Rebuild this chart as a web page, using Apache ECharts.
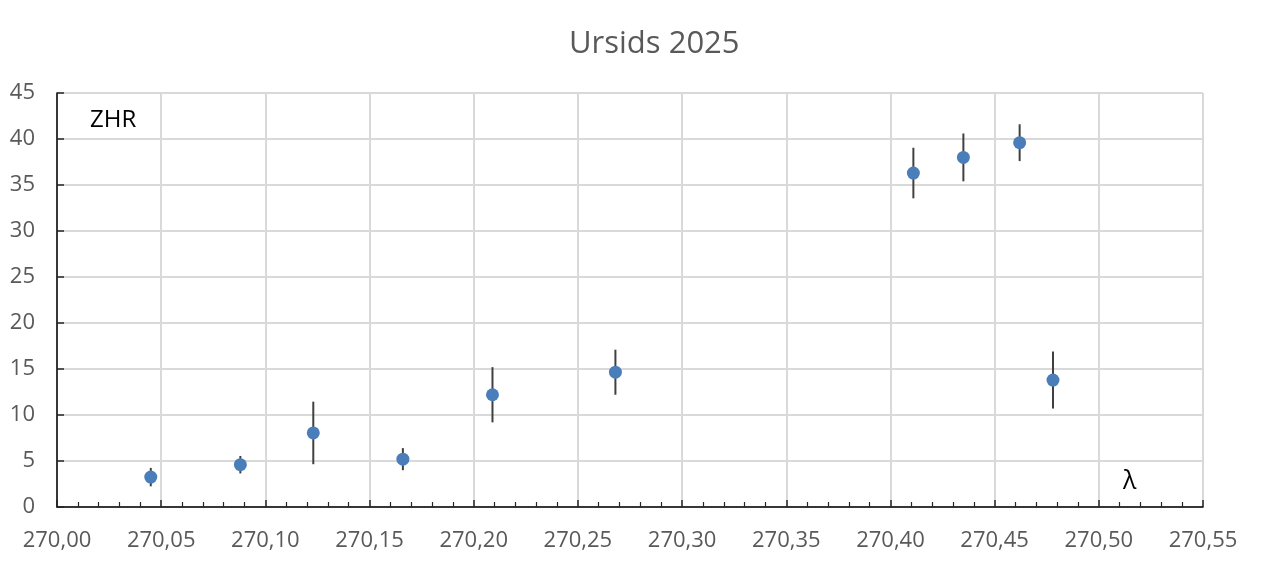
<!DOCTYPE html>
<html>
<head>
<meta charset="utf-8">
<script src="https://cdn.jsdelivr.net/npm/echarts@6/dist/echarts.min.js"></script>
<style>
html,body{margin:0;padding:0;background:#fff;}
#chart{width:1264px;height:565px;}
</style>
</head>
<body>
<div id="chart"></div>
<script>
var titleText = 'Ursids 2025';
var solarLongitude = [270.045, 270.088, 270.123, 270.166, 270.209, 270.268, 270.411, 270.435, 270.462, 270.478];
var zhr = [3.25, 4.6, 8.05, 5.2, 12.2, 14.65, 36.3, 38.0, 39.6, 13.8];
var zhrError = [1.0, 0.95, 3.4, 1.2, 3.0, 2.45, 2.75, 2.6, 2.0, 3.1];
var yAxisName = 'ZHR';
var xAxisName = 'λ';

var pointData = solarLongitude.map(function (x, i) { return [x, zhr[i]]; });
var errorData = solarLongitude.map(function (x, i) { return [x, zhr[i] - zhrError[i], zhr[i] + zhrError[i]]; });

var chart = echarts.init(document.getElementById('chart'));
var font = '"Open Sans", sans-serif';
chart.setOption({
  animation: false,
  backgroundColor: '#ffffff',
  title: {
    text: titleText,
    left: 564,
    top: 24,
    textStyle: { fontFamily: font, fontSize: 31, fontWeight: 'normal', color: '#595959' }
  },
  grid: { left: 57, right: 61, top: 93, bottom: 58 },
  xAxis: {
    type: 'value',
    min: 270,
    max: 270.55,
    interval: 0.05,
    axisLine: { show: true, onZero: false, lineStyle: { color: '#000000', width: 1.5 } },
    axisTick: { show: true, inside: true, length: 7, lineStyle: { color: '#262626', width: 1.5 } },
    minorTick: { show: true, splitNumber: 5, length: 5, lineStyle: { color: '#262626', width: 1.2 } },
    axisLabel: {
      fontFamily: font, fontSize: 22, color: '#595959', margin: 23,
      formatter: function (v) { return v.toFixed(2).replace('.', ','); }
    },
    splitLine: { show: true, lineStyle: { color: '#d9d9d9', width: 2 } }
  },
  yAxis: {
    type: 'value',
    min: 0,
    max: 45,
    interval: 5,
    axisLine: { show: true, lineStyle: { color: '#000000', width: 1.5 } },
    axisTick: { show: true, inside: true, length: 7, lineStyle: { color: '#262626', width: 1.5 } },
    axisLabel: { fontFamily: font, fontSize: 22, color: '#595959', margin: 22 },
    splitLine: { show: true, lineStyle: { color: '#d9d9d9', width: 2 } }
  },
  graphic: [
    { type: 'text', left: 90, top: 108, style: { text: yAxisName, fontFamily: font, fontSize: 24, fill: '#000000' } },
    { type: 'text', left: 1123, top: 469, style: { text: xAxisName, fontFamily: font, fontSize: 25, fill: '#000000' } }
  ],
  series: [
    {
      type: 'custom',
      z: 2,
      data: errorData,
      encode: { x: 0, y: [1, 2] },
      renderItem: function (params, api) {
        var p1 = api.coord([api.value(0), api.value(1)]);
        var p2 = api.coord([api.value(0), api.value(2)]);
        return {
          type: 'line',
          shape: { x1: p1[0], y1: p1[1], x2: p2[0], y2: p2[1] },
          style: { stroke: '#404040', lineWidth: 2 }
        };
      }
    },
    {
      type: 'scatter',
      z: 3,
      data: pointData,
      symbol: 'circle',
      symbolSize: 13,
      itemStyle: { color: '#4a7ebb', opacity: 1 }
    }
  ]
});
</script>
</body>
</html>
